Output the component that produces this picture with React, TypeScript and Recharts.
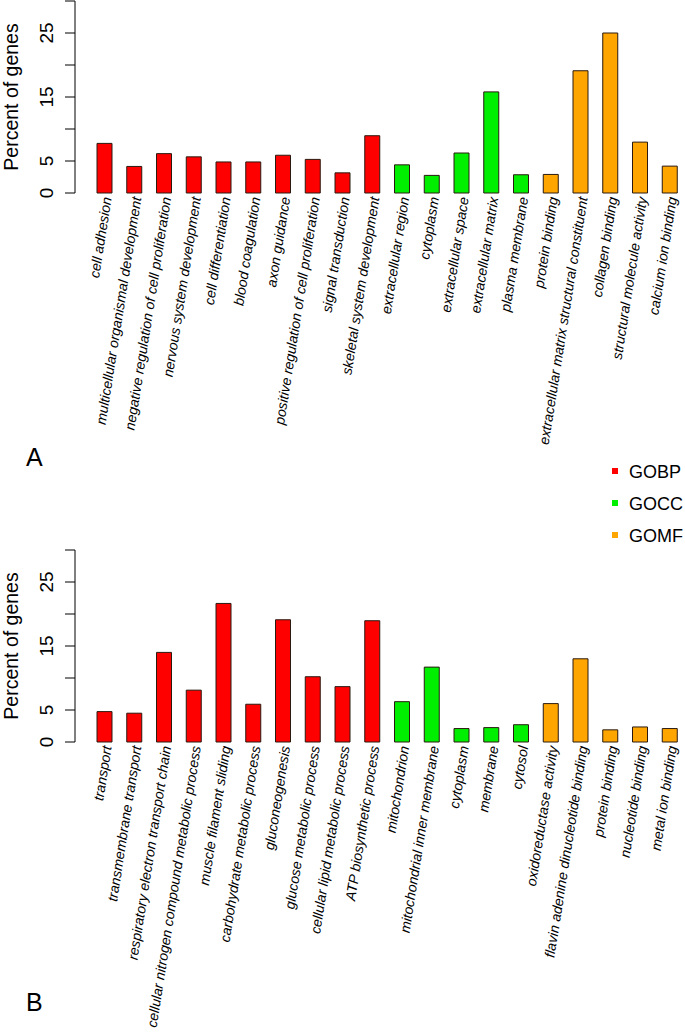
import React from 'react'
import { BarChart, Bar, XAxis, YAxis, Cell } from 'recharts'

// GO term enrichment, panel A
const termsA = [
  'cell adhesion',
  'multicellular organismal development',
  'negative regulation of cell proliferation',
  'nervous system development',
  'cell differentiation',
  'blood coagulation',
  'axon guidance',
  'positive regulation of cell proliferation',
  'signal transduction',
  'skeletal system development',
  'extracellular region',
  'cytoplasm',
  'extracellular space',
  'extracellular matrix',
  'plasma membrane',
  'protein binding',
  'extracellular matrix structural constituent',
  'collagen binding',
  'structural molecule activity',
  'calcium ion binding',
]
const percentA = [7.75, 4.15, 6.15, 5.65, 4.85, 4.85, 5.9, 5.25, 3.15, 8.95, 4.4, 2.75, 6.25, 15.8, 2.85, 2.9, 19.1, 25.0, 7.95, 4.2]
const groupA = ['GOBP', 'GOBP', 'GOBP', 'GOBP', 'GOBP', 'GOBP', 'GOBP', 'GOBP', 'GOBP', 'GOBP', 'GOCC', 'GOCC', 'GOCC', 'GOCC', 'GOCC', 'GOMF', 'GOMF', 'GOMF', 'GOMF', 'GOMF']

// panel B
const termsB = [
  'transport',
  'transmembrane transport',
  'respiratory electron transport chain',
  'cellular nitrogen compound metabolic process',
  'muscle filament sliding',
  'carbohydrate metabolic process',
  'gluconeogenesis',
  'glucose metabolic process',
  'cellular lipid metabolic process',
  'ATP biosynthetic process',
  'mitochondrion',
  'mitochondrial inner membrane',
  'cytoplasm',
  'membrane',
  'cytosol',
  'oxidoreductase activity',
  'flavin adenine dinucleotide binding',
  'protein binding',
  'nucleotide binding',
  'metal ion binding',
]
const percentB = [4.75, 4.5, 14.0, 8.1, 21.65, 5.9, 19.1, 10.2, 8.65, 18.95, 6.3, 11.7, 2.1, 2.25, 2.7, 6.0, 13.0, 1.9, 2.35, 2.1]
const groupB = ['GOBP', 'GOBP', 'GOBP', 'GOBP', 'GOBP', 'GOBP', 'GOBP', 'GOBP', 'GOBP', 'GOBP', 'GOCC', 'GOCC', 'GOCC', 'GOCC', 'GOCC', 'GOMF', 'GOMF', 'GOMF', 'GOMF', 'GOMF']

const yTicks = [0, 5, 10, 15, 20, 25, 30]
const yTickLabels = ['0', '5', '', '15', '', '25', '']
const legendGroups = ['GOBP', 'GOCC', 'GOMF']

const groupColors: Record<string, string> = {
  GOBP: '#ff0000',
  GOCC: '#00ee00',
  GOMF: '#ffa500',
}

const FONT = '"Liberation Sans", Arial, Helvetica, sans-serif'

function CategoryTick(props: any) {
  const { x, y, payload } = props
  return (
    <g transform={`translate(${x + 2},${y + 4}) rotate(-81)`}>
      <text
        x={0}
        y={0}
        dy="0.35em"
        textAnchor="end"
        fontSize={14}
        fontStyle="italic"
        fontFamily={FONT}
        fill="#000"
      >
        {payload.value}
      </text>
    </g>
  )
}

function ValueTick(props: any) {
  const { x, y, payload } = props
  const label = yTickLabels[yTicks.indexOf(payload.value)]
  if (!label) return null
  return (
    <text
      x={x}
      y={y}
      transform={`rotate(-90, ${x}, ${y})`}
      textAnchor="middle"
      fontSize={19}
      fontFamily={FONT}
      fill="#000"
    >
      {label}
    </text>
  )
}

function YTitle(props: any) {
  const { viewBox } = props
  const cx = 18
  const cy = viewBox.y + viewBox.height / 2
  return (
    <text
      x={cx}
      y={cy}
      transform={`rotate(-90, ${cx}, ${cy})`}
      textAnchor="middle"
      fontSize={19.5}
      fontFamily={FONT}
      fill="#000"
    >
      Percent of genes
    </text>
  )
}

function GOBarChart({
  terms,
  values,
  groups,
  height,
  top,
}: {
  terms: string[]
  values: number[]
  groups: string[]
  height: number
  top: number
}) {
  const data = terms.map((term, i) => ({ term, value: values[i], group: groups[i] }))
  return (
    <BarChart
      width={685}
      height={height}
      data={data}
      margin={{ top, right: 0, bottom: 0, left: 0 }}
      barCategoryGap={0}
    >
      <XAxis
        dataKey="term"
        type="category"
        interval={0}
        height={height - top - 192}
        padding={{ left: 15, right: 0 }}
        axisLine={false}
        tickLine={false}
        tickSize={0}
        tickMargin={0}
        tick={<CategoryTick />}
      />
      <YAxis
        type="number"
        domain={[0, 30]}
        ticks={yTicks}
        width={75}
        axisLine={{ stroke: '#000', strokeWidth: 1 }}
        tickLine={{ stroke: '#000', strokeWidth: 1 }}
        tickSize={10}
        tickMargin={12}
        tick={<ValueTick />}
        label={{ content: <YTitle /> }}
      />
      <Bar dataKey="value" barSize={15} stroke="#2a1a10" strokeWidth={1} isAnimationActive={false}>
        {data.map((d, i) => (
          <Cell key={i} fill={groupColors[d.group]} />
        ))}
      </Bar>
    </BarChart>
  )
}

export default function App() {
  return (
    <div
      style={{
        position: 'absolute',
        left: 0,
        top: 0,
        width: 685,
        height: 1034,
        background: '#fff',
        fontFamily: FONT,
      }}
    >
      <div style={{ position: 'absolute', left: 0, top: 0 }}>
        <GOBarChart terms={termsA} values={percentA} groups={groupA} height={480} top={1} />
      </div>
      <div style={{ position: 'absolute', left: 0, top: 540 }}>
        <GOBarChart terms={termsB} values={percentB} groups={groupB} height={494} top={10} />
      </div>
      <svg
        width={685}
        height={1034}
        style={{ position: 'absolute', left: 0, top: 0, pointerEvents: 'none' }}
      >
        <text x={26} y={466} fontSize={25} fontFamily={FONT} fill="#000">
          A
        </text>
        <text x={26} y={1011} fontSize={25} fontFamily={FONT} fill="#000">
          B
        </text>
        {legendGroups.map((g, i) => (
          <g key={g}>
            <rect x={612} y={468 + i * 32} width={6} height={6} fill={groupColors[g]} />
            <text x={629} y={477.5 + i * 32} fontSize={18} fontFamily={FONT} fill="#000">
              {g}
            </text>
          </g>
        ))}
      </svg>
    </div>
  )
}
